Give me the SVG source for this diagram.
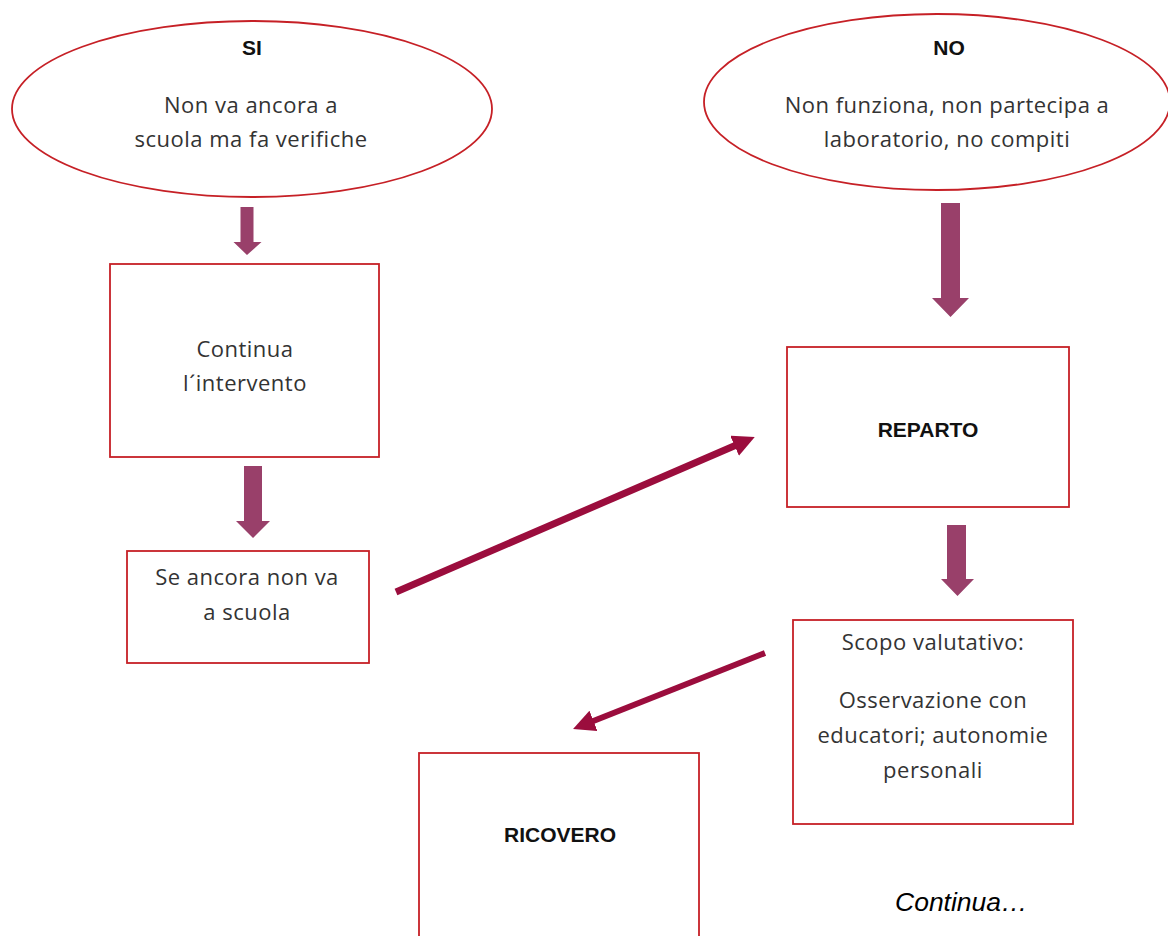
<svg xmlns="http://www.w3.org/2000/svg" width="1168" height="936" viewBox="0 0 1168 936">
<style>
.shape{fill:#fff;stroke:#c62026;stroke-width:1.8}
.t{font-family:"Open Sans","Noto Sans",sans-serif;font-size:22px;letter-spacing:0.5px;fill:#333;text-anchor:middle}
.b{font-family:"Liberation Sans",Arial,sans-serif;font-size:21px;font-weight:bold;fill:#111;text-anchor:middle}
.blk{fill:#99406a}
.ln{stroke:#9b0d3d;fill:none}
</style>
<defs>
<marker id="ah" viewBox="0 0 22 22" markerUnits="userSpaceOnUse" markerWidth="22" markerHeight="22" refX="7" refY="11" orient="auto">
<path d="M0,0 L22,11 L0,22 z" fill="#9b0d3d"/>
</marker>
</defs>
<rect width="1168" height="936" fill="#fff"/>
<g id="si">
<ellipse class="shape" cx="252" cy="109" rx="240" ry="88"/>
<text class="b" x="252" y="55">SI</text>
<text class="t" x="251" y="113">Non va ancora a</text>
<text class="t" x="251" y="147">scuola ma fa verifiche</text>
</g>
<g id="no">
<ellipse class="shape" cx="937" cy="102" rx="233" ry="88"/>
<text class="b" x="949" y="55">NO</text>
<text class="t" x="947" y="113">Non funziona, non partecipa a</text>
<text class="t" x="947" y="147">laboratorio, no compiti</text>
</g>
<g id="continua">
<rect class="shape" x="110" y="264" width="269" height="193"/>
<text class="t" x="245" y="357">Continua</text>
<text class="t" x="245" y="391">l´intervento</text>
</g>
<g id="seancora">
<rect class="shape" x="127" y="551" width="242" height="112"/>
<text class="t" x="247" y="585">Se ancora non va</text>
<text class="t" x="247" y="620">a scuola</text>
</g>
<g id="reparto">
<rect class="shape" x="787" y="347" width="282" height="160"/>
<text class="b" x="928" y="437">REPARTO</text>
</g>
<g id="scopo">
<rect class="shape" x="793" y="620" width="280" height="204"/>
<text class="t" x="933" y="650">Scopo valutativo:</text>
<text class="t" x="933" y="708">Osservazione con</text>
<text class="t" x="933" y="743">educatori; autonomie</text>
<text class="t" x="933" y="778">personali</text>
</g>
<g id="ricovero">
<rect class="shape" x="419" y="753" width="280" height="200"/>
<text class="b" x="560" y="842">RICOVERO</text>
</g>
<g id="connectors">
<polygon class="blk" points="240.5,207 253.5,207 253.5,242 261.5,242 247,255 233.5,242 240.5,242"/>
<polygon class="blk" points="244,466 262,466 262,521 270,521 253,538 236,521 244,521"/>
<polygon class="blk" points="941,203 960,203 960,298 969,298 950.5,317 932,298 941,298"/>
<polygon class="blk" points="947,525 966,525 966,579 974,579 957.5,596 941,579 947,579"/>
<line class="ln" x1="396" y1="592" x2="741" y2="443" stroke-width="7" marker-end="url(#ah)"/>
<line class="ln" x1="765" y1="653" x2="587" y2="723.5" stroke-width="6" marker-end="url(#ah)"/>
</g>
<text x="895" y="911" style="font-family:'Liberation Sans',Arial,sans-serif;font-size:26.5px;font-style:italic;fill:#000">Continua…</text>
</svg>
